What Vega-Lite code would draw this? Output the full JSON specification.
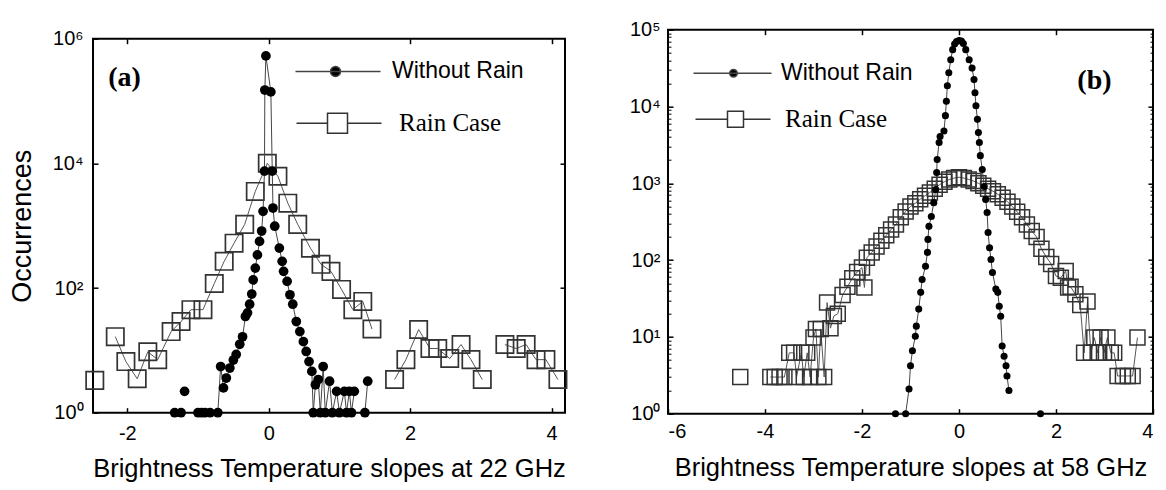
{
  "$schema": "https://vega.github.io/schema/vega-lite/v6.json",
  "background": "white",
  "padding": {"left": 7, "top": 18.7, "right": 5, "bottom": 5},
  "spacing": 57,
  "datasets": {
    "a_rain": [
      {"x": -2.46, "y": 3.3, "seg": 1},
      {"x": -2.17, "y": 16.6, "seg": 2}, {"x": -2.02, "y": 6.6, "seg": 2}, {"x": -1.86, "y": 3.5, "seg": 2}, {"x": -1.71, "y": 9.5, "seg": 2}, {"x": -1.57, "y": 7.1, "seg": 2}, {"x": -1.38, "y": 20, "seg": 2}, {"x": -1.24, "y": 29, "seg": 2}, {"x": -1.10, "y": 45, "seg": 2}, {"x": -0.93, "y": 45, "seg": 2}, {"x": -0.77, "y": 118, "seg": 2}, {"x": -0.63, "y": 268, "seg": 2}, {"x": -0.49, "y": 525, "seg": 2}, {"x": -0.34, "y": 1050, "seg": 2}, {"x": -0.19, "y": 3550, "seg": 2}, {"x": -0.02, "y": 10000, "seg": 2}, {"x": 0.13, "y": 6200, "seg": 2}, {"x": 0.27, "y": 2300, "seg": 2}, {"x": 0.41, "y": 1050, "seg": 2}, {"x": 0.59, "y": 435, "seg": 2}, {"x": 0.74, "y": 240, "seg": 2}, {"x": 0.88, "y": 185, "seg": 2}, {"x": 1.03, "y": 95, "seg": 2}, {"x": 1.19, "y": 45, "seg": 2}, {"x": 1.33, "y": 61, "seg": 2}, {"x": 1.46, "y": 22, "seg": 2},
      {"x": 1.78, "y": 3.4, "seg": 3}, {"x": 1.94, "y": 7.1, "seg": 3}, {"x": 2.12, "y": 21.6, "seg": 3}, {"x": 2.28, "y": 10.7, "seg": 3}, {"x": 2.39, "y": 10.7, "seg": 3}, {"x": 2.56, "y": 7.4, "seg": 3}, {"x": 2.72, "y": 12.4, "seg": 3}, {"x": 2.86, "y": 7.1, "seg": 3}, {"x": 3.02, "y": 3.4, "seg": 3},
      {"x": 3.34, "y": 12.4, "seg": 4}, {"x": 3.50, "y": 10.7, "seg": 4}, {"x": 3.64, "y": 12.4, "seg": 4}, {"x": 3.78, "y": 7.1, "seg": 4}, {"x": 3.92, "y": 7.1, "seg": 4}, {"x": 4.09, "y": 3.4, "seg": 4}
    ],
    "a_dry": [
      {"x": -1.33, "y": 1, "seg": 1}, {"x": -1.24, "y": 1, "seg": 1},
      {"x": -1.19, "y": 2.2, "seg": 2},
      {"x": -1.0, "y": 1, "seg": 3}, {"x": -0.95, "y": 1, "seg": 3}, {"x": -0.9, "y": 1, "seg": 3}, {"x": -0.83, "y": 1, "seg": 3}, {"x": -0.72, "y": 1, "seg": 3}, {"x": -0.68, "y": 5.5, "seg": 3}, {"x": -0.64, "y": 2.5, "seg": 3}, {"x": -0.60, "y": 3.6, "seg": 3}, {"x": -0.55, "y": 5.2, "seg": 3}, {"x": -0.50, "y": 7, "seg": 3}, {"x": -0.46, "y": 8.6, "seg": 3}, {"x": -0.41, "y": 12.5, "seg": 3}, {"x": -0.37, "y": 16.5, "seg": 3}, {"x": -0.33, "y": 35, "seg": 3}, {"x": -0.30, "y": 40, "seg": 3}, {"x": -0.27, "y": 55, "seg": 3}, {"x": -0.24, "y": 80, "seg": 3}, {"x": -0.22, "y": 135, "seg": 3}, {"x": -0.19, "y": 209, "seg": 3}, {"x": -0.16, "y": 340, "seg": 3}, {"x": -0.13, "y": 560, "seg": 3}, {"x": -0.10, "y": 820, "seg": 3}, {"x": -0.08, "y": 1700, "seg": 3}, {"x": -0.06, "y": 7500, "seg": 3}, {"x": -0.055, "y": 150000, "seg": 3}, {"x": -0.04, "y": 530000, "seg": 3}, {"x": 0.03, "y": 140000, "seg": 3}, {"x": 0.05, "y": 7500, "seg": 3}, {"x": 0.06, "y": 1920, "seg": 3}, {"x": 0.085, "y": 980, "seg": 3}, {"x": 0.15, "y": 437, "seg": 3}, {"x": 0.19, "y": 268, "seg": 3}, {"x": 0.21, "y": 185, "seg": 3}, {"x": 0.26, "y": 128, "seg": 3}, {"x": 0.30, "y": 78, "seg": 3}, {"x": 0.34, "y": 55, "seg": 3}, {"x": 0.39, "y": 29, "seg": 3}, {"x": 0.44, "y": 20, "seg": 3}, {"x": 0.49, "y": 13.8, "seg": 3}, {"x": 0.53, "y": 9.6, "seg": 3}, {"x": 0.57, "y": 6.6, "seg": 3}, {"x": 0.61, "y": 4.6, "seg": 3}, {"x": 0.63, "y": 1, "seg": 3}, {"x": 0.66, "y": 2.8, "seg": 3}, {"x": 0.70, "y": 3.4, "seg": 3}, {"x": 0.73, "y": 1, "seg": 3}, {"x": 0.77, "y": 5.5, "seg": 3}, {"x": 0.80, "y": 1, "seg": 3}, {"x": 0.86, "y": 3.2, "seg": 3}, {"x": 0.90, "y": 1, "seg": 3}, {"x": 0.96, "y": 2.2, "seg": 3}, {"x": 1.0, "y": 1, "seg": 3}, {"x": 1.07, "y": 2.2, "seg": 3}, {"x": 1.10, "y": 1, "seg": 3}, {"x": 1.14, "y": 2.2, "seg": 3}, {"x": 1.17, "y": 1, "seg": 3}, {"x": 1.21, "y": 2.2, "seg": 3},
      {"x": 1.36, "y": 1, "seg": 4}, {"x": 1.40, "y": 3.2, "seg": 4}
    ],
    "b_dry": [
      {"x": -1.31, "y": 1, "seg": 1}, {"x": -1.10, "y": 1, "seg": 1}, {"x": -1.03, "y": 2.1, "seg": 1}, {"x": -1.0, "y": 4.2, "seg": 1}, {"x": -0.96, "y": 6.6, "seg": 1}, {"x": -0.90, "y": 10.2, "seg": 1}, {"x": -0.88, "y": 13.8, "seg": 1}, {"x": -0.83, "y": 23, "seg": 1}, {"x": -0.79, "y": 38, "seg": 1}, {"x": -0.76, "y": 56, "seg": 1}, {"x": -0.69, "y": 83, "seg": 1}, {"x": -0.65, "y": 126, "seg": 1}, {"x": -0.64, "y": 186, "seg": 1}, {"x": -0.62, "y": 275, "seg": 1}, {"x": -0.57, "y": 370, "seg": 1}, {"x": -0.52, "y": 560, "seg": 1}, {"x": -0.48, "y": 830, "seg": 1}, {"x": -0.46, "y": 1380, "seg": 1}, {"x": -0.45, "y": 2040, "seg": 1}, {"x": -0.41, "y": 3400, "seg": 1}, {"x": -0.39, "y": 4070, "seg": 1}, {"x": -0.31, "y": 4800, "seg": 1}, {"x": -0.28, "y": 7600, "seg": 1}, {"x": -0.26, "y": 11700, "seg": 1}, {"x": -0.24, "y": 18600, "seg": 1}, {"x": -0.21, "y": 27500, "seg": 1}, {"x": -0.17, "y": 40700, "seg": 1}, {"x": -0.13, "y": 55000, "seg": 1}, {"x": -0.09, "y": 65000, "seg": 1}, {"x": -0.05, "y": 70000, "seg": 1}, {"x": 0, "y": 72000, "seg": 1}, {"x": 0.05, "y": 71000, "seg": 1}, {"x": 0.09, "y": 66000, "seg": 1}, {"x": 0.14, "y": 55000, "seg": 1}, {"x": 0.21, "y": 40700, "seg": 1}, {"x": 0.27, "y": 31600, "seg": 1}, {"x": 0.31, "y": 22400, "seg": 1}, {"x": 0.33, "y": 15100, "seg": 1}, {"x": 0.35, "y": 10200, "seg": 1}, {"x": 0.38, "y": 6800, "seg": 1}, {"x": 0.40, "y": 4570, "seg": 1}, {"x": 0.42, "y": 3390, "seg": 1}, {"x": 0.44, "y": 2290, "seg": 1}, {"x": 0.48, "y": 1510, "seg": 1}, {"x": 0.52, "y": 910, "seg": 1}, {"x": 0.55, "y": 617, "seg": 1}, {"x": 0.58, "y": 417, "seg": 1}, {"x": 0.60, "y": 229, "seg": 1}, {"x": 0.63, "y": 145, "seg": 1}, {"x": 0.66, "y": 102, "seg": 1}, {"x": 0.69, "y": 69, "seg": 1}, {"x": 0.76, "y": 42, "seg": 1}, {"x": 0.80, "y": 38, "seg": 1}, {"x": 0.83, "y": 25, "seg": 1}, {"x": 0.86, "y": 18.6, "seg": 1}, {"x": 0.89, "y": 7.6, "seg": 1}, {"x": 0.93, "y": 5.6, "seg": 1}, {"x": 0.97, "y": 4.2, "seg": 1}, {"x": 0.99, "y": 3.1, "seg": 1}, {"x": 1.03, "y": 2.0, "seg": 1},
      {"x": 1.68, "y": 1, "seg": 2}
    ],
    "b_rain": [
      {"x": -4.51, "y": 3, "seg": 1},
      {"x": -3.89, "y": 3, "seg": 2}, {"x": -3.8, "y": 3, "seg": 2}, {"x": -3.7, "y": 3, "seg": 2}, {"x": -3.6, "y": 3, "seg": 2}, {"x": -3.5, "y": 6.2, "seg": 2}, {"x": -3.4, "y": 6.2, "seg": 2}, {"x": -3.35, "y": 3, "seg": 2}, {"x": -3.25, "y": 6.2, "seg": 2}, {"x": -3.2, "y": 3, "seg": 2}, {"x": -3.13, "y": 6.2, "seg": 2}, {"x": -3.07, "y": 3, "seg": 2}, {"x": -3.0, "y": 9.8, "seg": 2}, {"x": -2.95, "y": 12.7, "seg": 2}, {"x": -2.9, "y": 3, "seg": 2}, {"x": -2.85, "y": 12.7, "seg": 2}, {"x": -2.78, "y": 3, "seg": 2}, {"x": -2.72, "y": 28, "seg": 2}, {"x": -2.65, "y": 13, "seg": 2}, {"x": -2.58, "y": 18.7, "seg": 2}, {"x": -2.5, "y": 20, "seg": 2}, {"x": -2.4, "y": 35, "seg": 2}, {"x": -2.3, "y": 45, "seg": 2}, {"x": -2.2, "y": 58, "seg": 2}, {"x": -2.1, "y": 70, "seg": 2}, {"x": -2.0, "y": 80, "seg": 2}, {"x": -1.95, "y": 44, "seg": 2}, {"x": -1.9, "y": 107, "seg": 2}, {"x": -1.8, "y": 126, "seg": 2}, {"x": -1.7, "y": 150, "seg": 2}, {"x": -1.6, "y": 178, "seg": 2}, {"x": -1.5, "y": 210, "seg": 2}, {"x": -1.4, "y": 250, "seg": 2}, {"x": -1.3, "y": 290, "seg": 2}, {"x": -1.2, "y": 360, "seg": 2}, {"x": -1.1, "y": 430, "seg": 2}, {"x": -1.0, "y": 500, "seg": 2}, {"x": -0.9, "y": 550, "seg": 2}, {"x": -0.8, "y": 620, "seg": 2}, {"x": -0.7, "y": 690, "seg": 2}, {"x": -0.6, "y": 760, "seg": 2}, {"x": -0.5, "y": 850, "seg": 2}, {"x": -0.4, "y": 960, "seg": 2}, {"x": -0.3, "y": 1050, "seg": 2}, {"x": -0.2, "y": 1120, "seg": 2}, {"x": -0.1, "y": 1170, "seg": 2}, {"x": 0, "y": 1200, "seg": 2}, {"x": 0.1, "y": 1170, "seg": 2}, {"x": 0.2, "y": 1120, "seg": 2}, {"x": 0.3, "y": 1070, "seg": 2}, {"x": 0.4, "y": 1000, "seg": 2}, {"x": 0.5, "y": 930, "seg": 2}, {"x": 0.6, "y": 850, "seg": 2}, {"x": 0.7, "y": 790, "seg": 2}, {"x": 0.8, "y": 720, "seg": 2}, {"x": 0.9, "y": 650, "seg": 2}, {"x": 1.0, "y": 575, "seg": 2}, {"x": 1.1, "y": 500, "seg": 2}, {"x": 1.2, "y": 425, "seg": 2}, {"x": 1.3, "y": 360, "seg": 2}, {"x": 1.4, "y": 290, "seg": 2}, {"x": 1.5, "y": 240, "seg": 2}, {"x": 1.6, "y": 200, "seg": 2}, {"x": 1.7, "y": 140, "seg": 2}, {"x": 1.8, "y": 110, "seg": 2}, {"x": 1.9, "y": 89, "seg": 2}, {"x": 2.0, "y": 62, "seg": 2}, {"x": 2.1, "y": 59, "seg": 2}, {"x": 2.2, "y": 72, "seg": 2}, {"x": 2.25, "y": 44, "seg": 2}, {"x": 2.3, "y": 45, "seg": 2}, {"x": 2.4, "y": 36, "seg": 2}, {"x": 2.5, "y": 26, "seg": 2}, {"x": 2.58, "y": 6.2, "seg": 2}, {"x": 2.65, "y": 29, "seg": 2}, {"x": 2.72, "y": 6.2, "seg": 2}, {"x": 2.79, "y": 9.8, "seg": 2}, {"x": 2.86, "y": 6.2, "seg": 2}, {"x": 2.92, "y": 9.8, "seg": 2}, {"x": 2.99, "y": 6.2, "seg": 2}, {"x": 3.06, "y": 9.8, "seg": 2}, {"x": 3.13, "y": 6.2, "seg": 2}, {"x": 3.2, "y": 6.2, "seg": 2}, {"x": 3.27, "y": 3.1, "seg": 2}, {"x": 3.38, "y": 3.1, "seg": 2}, {"x": 3.48, "y": 3.1, "seg": 2}, {"x": 3.58, "y": 3.1, "seg": 2}, {"x": 3.68, "y": 9.8, "seg": 2}
    ]
  },
  "hconcat": [
    {
      "spacing": 0,
      "bounds": "flush",
      "vconcat": [
        {
          "width": 472,
          "height": 8.3,
          "view": {"stroke": null},
          "data": {"values": [{}]},
          "mark": {"type": "point", "opacity": 0}
        },
        {
          "width": 472,
          "height": 374,
          "layer": [
            {
              "data": {"name": "a_rain"},
              "mark": {"type": "line", "color": "#555", "strokeWidth": 1},
              "encoding": {
                "x": {"field": "x", "type": "quantitative", "scale": {"domain": [-2.485, 4.19], "nice": false, "zero": false},
                  "axis": {"orient": "bottom", "values": [-2, 0, 2, 4], "labelExpr": "'' + datum.value", "tickSize": -5, "tickWidth": 1.5, "labelPadding": 16, "labelFontSize": 20, "title": "Brightness Temperature slopes at 22 GHz", "titleFontSize": 25.5, "titlePadding": 13}},
                "y": {"field": "y", "type": "quantitative", "scale": {"type": "log", "domain": [1, 1000000], "nice": false},
                  "axis": {"orient": "left", "values": [1, 100, 10000, 1000000], "labelExpr": "'10' + ['⁰','¹','²','³','⁴','⁵','⁶'][round(log(datum.value)/LN10)]", "tickSize": -5, "tickWidth": 1.5, "labelPadding": 15, "labelFontSize": 20, "title": "Occurrences", "titleFontSize": 27, "titlePadding": 16}},
                "detail": {"field": "seg", "type": "nominal"}
              }
            },
            {
              "data": {"name": "a_rain"},
              "mark": {"type": "point", "shape": "square", "filled": false, "size": 300, "strokeWidth": 1.7, "opacity": 1},
              "encoding": {
                "x": {"field": "x", "type": "quantitative", "scale": {"domain": [-2.485, 4.19], "nice": false, "zero": false},
                  "axis": {"orient": "top", "values": [-2, 0, 2, 4], "labels": false, "tickSize": -5, "tickWidth": 1.5, "title": null}},
                "y": {"field": "y", "type": "quantitative", "scale": {"type": "log", "domain": [1, 1000000], "nice": false},
                  "axis": {"orient": "right", "values": [100, 10000], "labels": false, "tickSize": -5, "tickWidth": 1.5, "title": null}},
                "stroke": {"datum": "Rain Case", "type": "nominal", "scale": {"range": ["#333333"]},
                  "legend": {"orient": "none", "legendX": 232, "legendY": 81, "title": null, "symbolType": "M-4.1,0H-1M1,0H4.4M-1,-1H1V1H-1Z", "symbolSize": 400, "symbolStrokeWidth": 1.5, "symbolFillColor": "transparent", "labelFont": "Liberation Serif", "labelFontSize": 25, "labelOffset": 49, "padding": 0}}
              }
            },
            {
              "data": {"name": "a_dry"},
              "mark": {"type": "line", "color": "#444", "strokeWidth": 1},
              "encoding": {
                "x": {"field": "x", "type": "quantitative", "scale": {"domain": [-2.485, 4.19], "nice": false, "zero": false}, "axis": null},
                "y": {"field": "y", "type": "quantitative", "scale": {"type": "log", "domain": [1, 1000000], "nice": false}, "axis": null},
                "detail": {"field": "seg", "type": "nominal"}
              }
            },
            {
              "data": {"name": "a_dry"},
              "mark": {"type": "point", "shape": "circle", "filled": true, "size": 95, "opacity": 1},
              "encoding": {
                "x": {"field": "x", "type": "quantitative", "scale": {"domain": [-2.485, 4.19], "nice": false, "zero": false}, "axis": null},
                "y": {"field": "y", "type": "quantitative", "scale": {"type": "log", "domain": [1, 1000000], "nice": false}, "axis": null},
                "fill": {"datum": "Without Rain", "type": "nominal", "scale": {"range": ["black"]},
                  "legend": {"orient": "none", "legendX": 231, "legendY": 30.3, "title": null, "symbolType": "M-4,0H4.5M-0.5,0A0.5,0.5,0,1,0,0.5,0A0.5,0.5,0,1,0,-0.5,0Z", "symbolSize": 400, "symbolStrokeColor": "#444", "symbolStrokeWidth": 1.5, "labelFont": "Liberation Sans", "labelFontSize": 23, "labelOffset": 45, "padding": 0}}
              }
            },
            {
              "data": {"values": [{}]},
              "mark": {"type": "text", "font": "Liberation Serif", "fontWeight": "bold", "fontSize": 28, "align": "left", "baseline": "middle", "color": "black"},
              "encoding": {
                "x": {"datum": -2.27, "type": "quantitative", "scale": {"domain": [-2.485, 4.19], "nice": false, "zero": false}, "axis": null},
                "y": {"datum": 237000, "type": "quantitative", "scale": {"type": "log", "domain": [1, 1000000], "nice": false}, "axis": null},
                "text": {"value": "(a)"}
              }
            }
          ],
          "resolve": {"axis": {"x": "independent", "y": "independent"}}
        }
      ]
    },
    {
      "width": 485,
      "height": 384,
      "layer": [
        {
          "data": {"name": "b_rain"},
          "mark": {"type": "line", "color": "#555", "strokeWidth": 1},
          "encoding": {
            "x": {"field": "x", "type": "quantitative", "scale": {"domain": [-6, 4], "nice": false, "zero": false},
              "axis": {"orient": "bottom", "values": [-6, -4, -2, 0, 2, 4], "labelExpr": "'' + datum.value", "tickSize": -5, "tickWidth": 1.5, "labelPadding": 13, "labelFontSize": 20, "title": "Brightness Temperature slopes at 58 GHz", "titleFontSize": 25.5, "titlePadding": 14}},
            "y": {"field": "y", "type": "quantitative", "scale": {"type": "log", "domain": [1, 100000], "nice": false},
              "axis": {"orient": "left", "values": [1, 10, 100, 1000, 10000, 100000], "labelExpr": "'10' + ['⁰','¹','²','³','⁴','⁵','⁶'][round(log(datum.value)/LN10)]", "tickSize": -5, "tickWidth": 1.5, "labelPadding": 13, "labelFontSize": 20, "title": null}},
            "detail": {"field": "seg", "type": "nominal"}
          }
        },
        {
          "data": {"name": "b_rain"},
          "mark": {"type": "point", "shape": "square", "filled": false, "size": 225, "strokeWidth": 1.5, "opacity": 1},
          "encoding": {
            "x": {"field": "x", "type": "quantitative", "scale": {"domain": [-6, 4], "nice": false, "zero": false},
              "axis": {"orient": "top", "values": [-4, -2, 0, 2], "labels": false, "tickSize": -5, "tickWidth": 1.5, "title": null}},
            "y": {"field": "y", "type": "quantitative", "scale": {"type": "log", "domain": [1, 100000], "nice": false},
              "axis": {"orient": "right", "values": [10, 100, 1000, 10000], "labels": false, "tickSize": -5, "tickWidth": 1.5, "title": null}},
            "stroke": {"datum": "Rain Case", "type": "nominal", "scale": {"range": ["#333333"]},
              "legend": {"orient": "none", "legendX": 55, "legendY": 77, "title": null, "symbolType": "M-4,0H-0.8M0.8,0H3.5M-0.8,-0.8H0.8V0.8H-0.8Z", "symbolSize": 400, "symbolStrokeWidth": 1.5, "symbolFillColor": "transparent", "labelFont": "Liberation Serif", "labelFontSize": 25, "labelOffset": 37, "padding": 0}}
          }
        },
        {
          "data": {"name": "b_dry"},
          "mark": {"type": "line", "color": "#444", "strokeWidth": 1},
          "encoding": {
            "x": {"field": "x", "type": "quantitative", "scale": {"domain": [-6, 4], "nice": false, "zero": false}, "axis": null},
            "y": {"field": "y", "type": "quantitative", "scale": {"type": "log", "domain": [1, 100000], "nice": false},
              "axis": {"orient": "left", "values": [2, 3, 4, 5, 6, 7, 8, 9, 20, 30, 40, 50, 60, 70, 80, 90, 200, 300, 400, 500, 600, 700, 800, 900, 2000, 3000, 4000, 5000, 6000, 7000, 8000, 9000, 20000, 30000, 40000, 50000, 60000, 70000, 80000, 90000], "labels": false, "tickSize": -3, "tickWidth": 1, "title": null}},
            "detail": {"field": "seg", "type": "nominal"}
          }
        },
        {
          "data": {"name": "b_dry"},
          "mark": {"type": "point", "shape": "circle", "filled": true, "size": 50, "opacity": 1},
          "encoding": {
            "x": {"field": "x", "type": "quantitative", "scale": {"domain": [-6, 4], "nice": false, "zero": false}, "axis": null},
            "y": {"field": "y", "type": "quantitative", "scale": {"type": "log", "domain": [1, 100000], "nice": false},
              "axis": {"orient": "right", "values": [2, 3, 4, 5, 6, 7, 8, 9, 20, 30, 40, 50, 60, 70, 80, 90, 200, 300, 400, 500, 600, 700, 800, 900, 2000, 3000, 4000, 5000, 6000, 7000, 8000, 9000, 20000, 30000, 40000, 50000, 60000, 70000, 80000, 90000], "labels": false, "tickSize": -3, "tickWidth": 1, "title": null}},
            "fill": {"datum": "Without Rain", "type": "nominal", "scale": {"range": ["black"]},
              "legend": {"orient": "none", "legendX": 54, "legendY": 32, "title": null, "symbolType": "M-4,0H3.8M-0.38,0A0.38,0.38,0,1,0,0.38,0A0.38,0.38,0,1,0,-0.38,0Z", "symbolSize": 400, "symbolStrokeColor": "#444", "symbolStrokeWidth": 1.5, "labelFont": "Liberation Sans", "labelFontSize": 23, "labelOffset": 36, "padding": 0}}
          }
        },
        {
          "data": {"values": [{}]},
          "mark": {"type": "text", "font": "Liberation Serif", "fontWeight": "bold", "fontSize": 28, "align": "left", "baseline": "middle", "color": "black"},
          "encoding": {
            "x": {"datum": 2.44, "type": "quantitative", "scale": {"domain": [-6, 4], "nice": false, "zero": false}, "axis": null},
            "y": {"datum": 21500, "type": "quantitative", "scale": {"type": "log", "domain": [1, 100000], "nice": false}, "axis": null},
            "text": {"value": "(b)"}
          }
        }
      ],
      "resolve": {"axis": {"x": "independent", "y": "independent"}}
    }
  ],
  "resolve": {"scale": {"fill": "independent", "stroke": "independent"}, "legend": {"fill": "independent", "stroke": "independent"}},
  "config": {
    "view": {"stroke": "black", "strokeWidth": 2},
    "axis": {"grid": false, "domain": false, "labelFont": "Liberation Sans", "labelColor": "black", "titleFont": "Liberation Sans", "titleFontWeight": "normal", "titleColor": "black", "tickColor": "black"},
    "legend": {"labelColor": "black", "padding": 0},
    "title": {"color": "black"}
  }
}
